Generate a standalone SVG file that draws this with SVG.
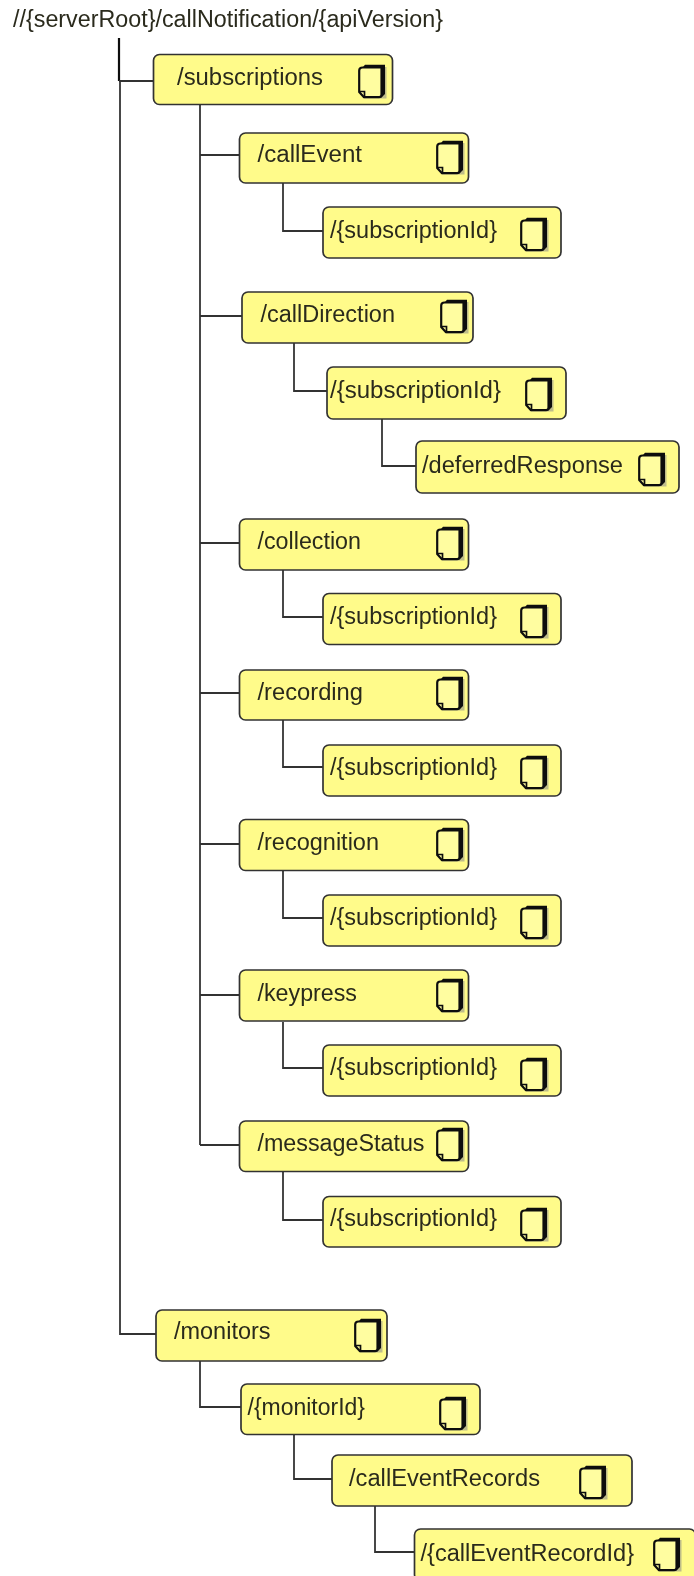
<svg xmlns="http://www.w3.org/2000/svg" width="694" height="1576" viewBox="0 0 694 1576">
<style>
text{font-family:"Liberation Sans",Arial,sans-serif;font-size:23.500px;fill:#2a2a1c}
.b{fill:#fffb8a;stroke:#333;stroke-width:1.700}
#connectors path{fill:none;stroke:#333;stroke-width:1.800}
#connectors path.t{stroke:#111;stroke-width:2.200}
</style>
<defs>
<filter id="soft" x="0" y="0" width="100%" height="100%" filterUnits="objectBoundingBox"><feGaussianBlur stdDeviation="0.400"/></filter>
<g id="page">
<path d="M6 3H28.500V34.500H6Z" fill="#888" opacity=".55"/>
<path d="M5 3L7 0.800H27V30L23.500 33.500H5Z" fill="#111"/>
<path d="M4.500 3.500Q1.200 3.500 1.200 6.500V28L6 33.200H21Q23.500 33.200 23.500 30.500V3.500Z" fill="#fffda0" stroke="#111" stroke-width="2.200" stroke-linejoin="round"/>
<path d="M1.500 27.500H6.500V32.500" fill="none" stroke="#111" stroke-width="1.700"/>
</g>
</defs>
<rect width="694" height="1576" fill="#fff"/>
<g filter="url(#soft)">
<text id="root" x="13" y="27" textLength="430" lengthAdjust="spacingAndGlyphs">//{serverRoot}/callNotification/{apiVersion}</text>
<g id="connectors">
<path class="t" d="M119 38V81"/>
<path d="M119 81H153M120 81V1334H156"/>
<path d="M200 104V1145M200 155H240M200 316H242M200 543H240M200 693H240M200 844H240M200 995H240M200 1145H240"/>
<path d="M283 183V231H323M294 343V391H327M382 419V466H416M283 570V617H323M283 720V767H323M283 871V918H323M283 1022V1068H323M283 1172V1220H323"/>
<path d="M200 1361V1407H241M294 1434V1479H332M375 1506V1552H415"/>
</g>
<g id="n1"><rect class="b" x="153.500" y="54.500" width="239" height="50" rx="6"/><text x="177" y="85" textLength="146" lengthAdjust="spacingAndGlyphs">/subscriptions</text><use href="#page" x="358" y="64"/></g>
<g id="n2"><rect class="b" x="239.500" y="133" width="229" height="50" rx="6"/><text x="257.500" y="162" textLength="104.500" lengthAdjust="spacingAndGlyphs">/callEvent</text><use href="#page" x="436" y="140"/></g>
<g id="n3"><rect class="b" x="323" y="207" width="238" height="51" rx="6"/><text x="330" y="238" textLength="167" lengthAdjust="spacingAndGlyphs">/{subscriptionId}</text><use href="#page" x="520" y="217"/></g>
<g id="n4"><rect class="b" x="242" y="292" width="231" height="51" rx="6"/><text x="260.500" y="322" textLength="134.500" lengthAdjust="spacingAndGlyphs">/callDirection</text><use href="#page" x="440" y="299"/></g>
<g id="n5"><rect class="b" x="327" y="367" width="239" height="52" rx="6"/><text x="330" y="398" textLength="171" lengthAdjust="spacingAndGlyphs">/{subscriptionId}</text><use href="#page" x="525" y="377"/></g>
<g id="n6"><rect class="b" x="416" y="441" width="263" height="52" rx="6"/><text x="422" y="473" textLength="201" lengthAdjust="spacingAndGlyphs">/deferredResponse</text><use href="#page" x="638" y="452"/></g>
<g id="n7"><rect class="b" x="239.500" y="519" width="229" height="51" rx="6"/><text x="257.500" y="549" textLength="103.500" lengthAdjust="spacingAndGlyphs">/collection</text><use href="#page" x="436" y="526"/></g>
<g id="n8"><rect class="b" x="323" y="593.500" width="238" height="51" rx="6"/><text x="330" y="624" textLength="167" lengthAdjust="spacingAndGlyphs">/{subscriptionId}</text><use href="#page" x="520" y="604"/></g>
<g id="n9"><rect class="b" x="239.500" y="670" width="229" height="50" rx="6"/><text x="257.500" y="700" textLength="105.500" lengthAdjust="spacingAndGlyphs">/recording</text><use href="#page" x="436" y="676"/></g>
<g id="n10"><rect class="b" x="323" y="745" width="238" height="51" rx="6"/><text x="330" y="775" textLength="167" lengthAdjust="spacingAndGlyphs">/{subscriptionId}</text><use href="#page" x="520" y="755"/></g>
<g id="n11"><rect class="b" x="239.500" y="819.500" width="229" height="51" rx="6"/><text x="257.500" y="850" textLength="121.500" lengthAdjust="spacingAndGlyphs">/recognition</text><use href="#page" x="436" y="827"/></g>
<g id="n12"><rect class="b" x="323" y="895" width="238" height="51" rx="6"/><text x="330" y="925" textLength="167" lengthAdjust="spacingAndGlyphs">/{subscriptionId}</text><use href="#page" x="520" y="905"/></g>
<g id="n13"><rect class="b" x="239.500" y="970" width="229" height="51" rx="6"/><text x="257.500" y="1001" textLength="99.500" lengthAdjust="spacingAndGlyphs">/keypress</text><use href="#page" x="436" y="978"/></g>
<g id="n14"><rect class="b" x="323" y="1045" width="238" height="51" rx="6"/><text x="330" y="1075" textLength="167" lengthAdjust="spacingAndGlyphs">/{subscriptionId}</text><use href="#page" x="520" y="1057"/></g>
<g id="n15"><rect class="b" x="239.500" y="1121" width="229" height="50.500" rx="6"/><text x="257.500" y="1151" textLength="167" lengthAdjust="spacingAndGlyphs">/messageStatus</text><use href="#page" x="436" y="1127"/></g>
<g id="n16"><rect class="b" x="323" y="1196.500" width="238" height="50.500" rx="6"/><text x="330" y="1226" textLength="167" lengthAdjust="spacingAndGlyphs">/{subscriptionId}</text><use href="#page" x="520" y="1207"/></g>
<g id="n17"><rect class="b" x="156" y="1310" width="231" height="51" rx="6"/><text x="174" y="1339" textLength="96.500" lengthAdjust="spacingAndGlyphs">/monitors</text><use href="#page" x="354" y="1318"/></g>
<g id="n18"><rect class="b" x="241" y="1384" width="239" height="50.500" rx="6"/><text x="247.500" y="1415" textLength="117.500" lengthAdjust="spacingAndGlyphs">/{monitorId}</text><use href="#page" x="439" y="1396"/></g>
<g id="n19"><rect class="b" x="332" y="1455" width="300" height="51" rx="6"/><text x="349" y="1486" textLength="191" lengthAdjust="spacingAndGlyphs">/callEventRecords</text><use href="#page" x="579" y="1465"/></g>
<g id="n20"><rect class="b" x="414.500" y="1529" width="281" height="52" rx="6"/><text x="420.500" y="1561" textLength="213.500" lengthAdjust="spacingAndGlyphs">/{callEventRecordId}</text><use href="#page" x="653" y="1537"/></g>
</g>
</svg>
